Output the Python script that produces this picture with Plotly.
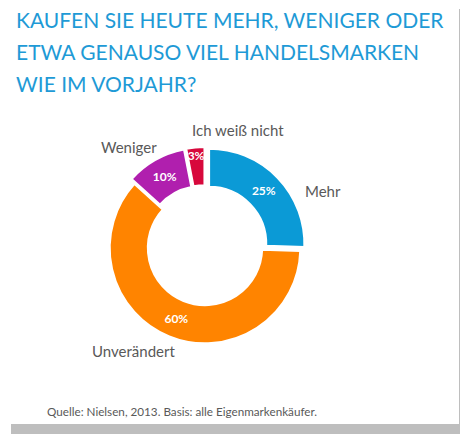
import plotly.graph_objects as go

# Data
labels = ["Mehr", "Unverändert", "Weniger", "Ich weiß nicht"]
values = [25, 60, 10, 3]
colors = ["#0B9AD6", "#FF8400", "#B01FAE", "#D7083C"]
pulls = [0.06, 0.0, 0.06, 0.06]

title_lines = [
    "KAUFEN SIE HEUTE MEHR, WENIGER ODER",
    "ETWA GENAUSO VIEL HANDELSMARKEN",
    "WIE IM VORJAHR?",
]
source = "Quelle: Nielsen, 2013. Basis: alle Eigenmarkenkäufer."

# the page puts the plot 8px in from the top-left corner of the window,
# so the figure is made 8px smaller and positions below are window pixels
OFF = 8
W, H = 468 - OFF, 434 - OFF
FONT = "Lato"


def px(x):
    return (x - OFF) / W


def py(y):
    return 1 - (y - OFF) / H


cx, cy, half = 205, 248, 101

fig = go.Figure()

fig.add_trace(go.Pie(
    labels=labels,
    values=values,
    hole=0.6,
    sort=False,
    direction="clockwise",
    rotation=0,
    pull=pulls,
    marker=dict(colors=colors, line=dict(color="white", width=2)),
    texttemplate="%{value}%",
    textposition="inside",
    insidetextorientation="horizontal",
    textfont=dict(family=FONT, size=12, color="white", weight="bold"),
    hoverinfo="label+value",
    domain=dict(x=[px(cx - half), px(cx + half)],
                y=[py(cy + half), py(cy - half)]),
    showlegend=False,
))

annotations = []

# title lines
for i, line in enumerate(title_lines):
    annotations.append(dict(
        x=px(14), y=py(20 + i * 31.5), xref="paper", yref="paper",
        text=line, showarrow=False, xanchor="left", yanchor="middle",
        font=dict(family=FONT, size=21, color="#1E9AD6"),
    ))

# category labels around the ring
label_pos = {
    "Mehr": (303, 191),
    "Unverändert": (90, 351),
    "Weniger": (99, 147),
    "Ich weiß nicht": (190, 130),
}
for name in labels:
    lx, ly = label_pos[name]
    annotations.append(dict(
        x=px(lx), y=py(ly), xref="paper", yref="paper",
        text=name, showarrow=False, xanchor="left", yanchor="middle",
        font=dict(family=FONT, size=15, color="#595959"),
    ))

# source note
annotations.append(dict(
    x=px(45), y=py(411), xref="paper", yref="paper",
    text=source, showarrow=False, xanchor="left", yanchor="middle",
    font=dict(family=FONT, size=11.7, color="#595959"),
))

# drop shadow on the right and bottom edges
shapes = [
    dict(type="rect", xref="paper", yref="paper",
         x0=px(459), x1=1, y0=0, y1=py(9),
         fillcolor="#BEBEBE", line=dict(width=0), layer="below"),
    dict(type="rect", xref="paper", yref="paper",
         x0=px(11), x1=1, y0=0, y1=py(424),
         fillcolor="#BEBEBE", line=dict(width=0), layer="below"),
]

fig.update_layout(
    width=W, height=H,
    margin=dict(l=0, r=0, t=0, b=0),
    paper_bgcolor="white",
    plot_bgcolor="white",
    annotations=annotations,
    shapes=shapes,
    uniformtext=dict(minsize=12, mode="show"),
)

fig.write_html("out.html")
